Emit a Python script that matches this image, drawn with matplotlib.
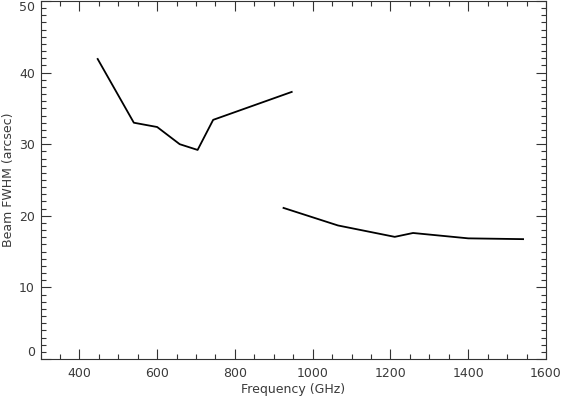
import matplotlib
matplotlib.use("Agg")
import matplotlib.pyplot as plt
from matplotlib.ticker import MultipleLocator

# Low-frequency band
freq_low = [447, 540, 600, 658, 704, 744, 946]
fwhm_low = [41.9, 33.0, 32.4, 30.0, 29.2, 33.4, 37.3]

# High-frequency band
freq_high = [925, 1065, 1211, 1258, 1400, 1490, 1541]
fwhm_high = [21.1, 18.65, 17.06, 17.6, 16.85, 16.78, 16.74]

xticks = [400, 600, 800, 1000, 1200, 1400, 1600]
yticks = [0, 10, 20, 30, 40, 50]

plt.rcParams['font.family'] = ['DejaVu Sans']
fig = plt.figure(figsize=(5.61, 3.97), dpi=100)
ax = fig.add_axes([0.0722, 0.0957, 0.9011, 0.9018])

ax.plot(freq_low, fwhm_low, color='black', lw=1.3)
ax.plot(freq_high, fwhm_high, color='black', lw=1.3)

ax.set_xlim(300, 1600)
ax.set_ylim(0, 50)
ax.set_xticks(xticks)
ax.set_yticks(yticks)
ax.xaxis.set_minor_locator(MultipleLocator(50))
ax.yaxis.set_minor_locator(MultipleLocator(1))

tc = '#333333'
txt = '#3a3a3a'
for s in ax.spines.values():
    s.set_color(tc)
    s.set_linewidth(0.8)
ax.tick_params(which='both', direction='in', top=True, right=True, colors=tc,
               labelcolor=txt, labelsize=9)
ax.tick_params(which='major', length=7, width=0.8)
ax.tick_params(which='minor', length=3.5, width=0.8)
ax.tick_params(axis='x', which='major', pad=6)
ax.tick_params(axis='y', which='major', pad=4)

fig.canvas.draw()
ylabs = ax.get_yticklabels()
ylabs[0].set_verticalalignment('bottom')
ylabs[-1].set_verticalalignment('top')

ax.set_xlabel('Frequency (GHz)', fontsize=9, color=txt, labelpad=2)
ax.set_ylabel('Beam FWHM (arcsec)', fontsize=9, color=txt, labelpad=3)

fig.savefig('out.png', dpi=100)
